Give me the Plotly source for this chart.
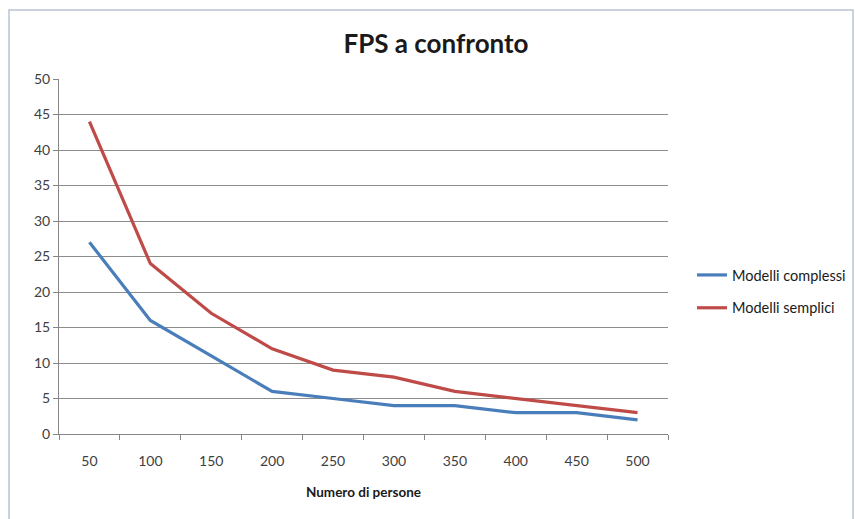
import plotly.graph_objects as go

persone = ["50", "100", "150", "200", "250", "300", "350", "400", "450", "500"]
modelli_complessi = [27, 16, 11, 6, 5, 4, 4, 3, 3, 2]
modelli_semplici = [44, 24, 17, 12, 9, 8, 6, 5, 4, 3]
y_ticks = [0, 5, 10, 15, 20, 25, 30, 35, 40, 45, 50]

W, H = 855, 519
L, R, T, B = 59, 187, 79, 85
pw, ph = W - L - R, H - T - B


def px_x(p):
    return (p - L) / pw


def px_y(p):
    return (H - B - p) / ph


fig = go.Figure()
fig.add_trace(go.Scatter(
    x=persone, y=modelli_complessi, mode="lines", name="Modelli complessi",
    legendgroup="complessi",
    line=dict(color="#4a7ebb", width=3.2),
))
fig.add_trace(go.Scatter(
    x=persone, y=modelli_semplici, mode="lines", name="Modelli semplici",
    legendgroup="semplici",
    line=dict(color="#be4b48", width=3.2),
))

font_family = "Lato, 'Open Sans', sans-serif"

fig.update_layout(
    width=W, height=H,
    margin=dict(l=L, r=R, t=T, b=B, autoexpand=False),
    paper_bgcolor="white", plot_bgcolor="white",
    font=dict(family=font_family, color="#404040", size=14),
    title=dict(text="<b>FPS a confronto</b>", x=436 / W, xanchor="center",
               y=1 - 44 / H, yanchor="middle",
               font=dict(size=26, color="#1a1a1a", family=font_family)),
    showlegend=True,
    legend=dict(x=px_x(692), y=px_y(259), xanchor="left", yanchor="top",
                font=dict(size=14.5, color="#1a1a1a"), tracegroupgap=11,
                itemwidth=30, bgcolor="rgba(0,0,0,0)"),
    xaxis=dict(
        type="category", tickson="boundaries", ticks="outside", ticklen=5,
        tickcolor="#868686", showline=True, linecolor="#868686", linewidth=1,
        showgrid=False, tickfont=dict(size=14, color="#404040"),
        ticklabelstandoff=14,
        title=dict(text="<b>Numero di persone</b>", standoff=19,
                   font=dict(size=13.5, color="#1a1a1a")),
        range=[-0.5, 9.5],
    ),
    yaxis=dict(
        range=[0, 50], tickvals=y_ticks, ticks="outside", ticklen=5,
        tickcolor="#868686", showline=True, linecolor="#868686", linewidth=1,
        showgrid=True, gridcolor="#8c8c8c", gridwidth=1, zeroline=False,
        tickfont=dict(size=14, color="#404040"),
    ),
)

# outer chart frame
fig.add_shape(type="rect", xref="paper", yref="paper",
              x0=px_x(9), x1=px_x(853), y0=px_y(525), y1=px_y(10),
              line=dict(color="#b9c3d3", width=1.5), layer="below")

fig.write_html("out.html")
